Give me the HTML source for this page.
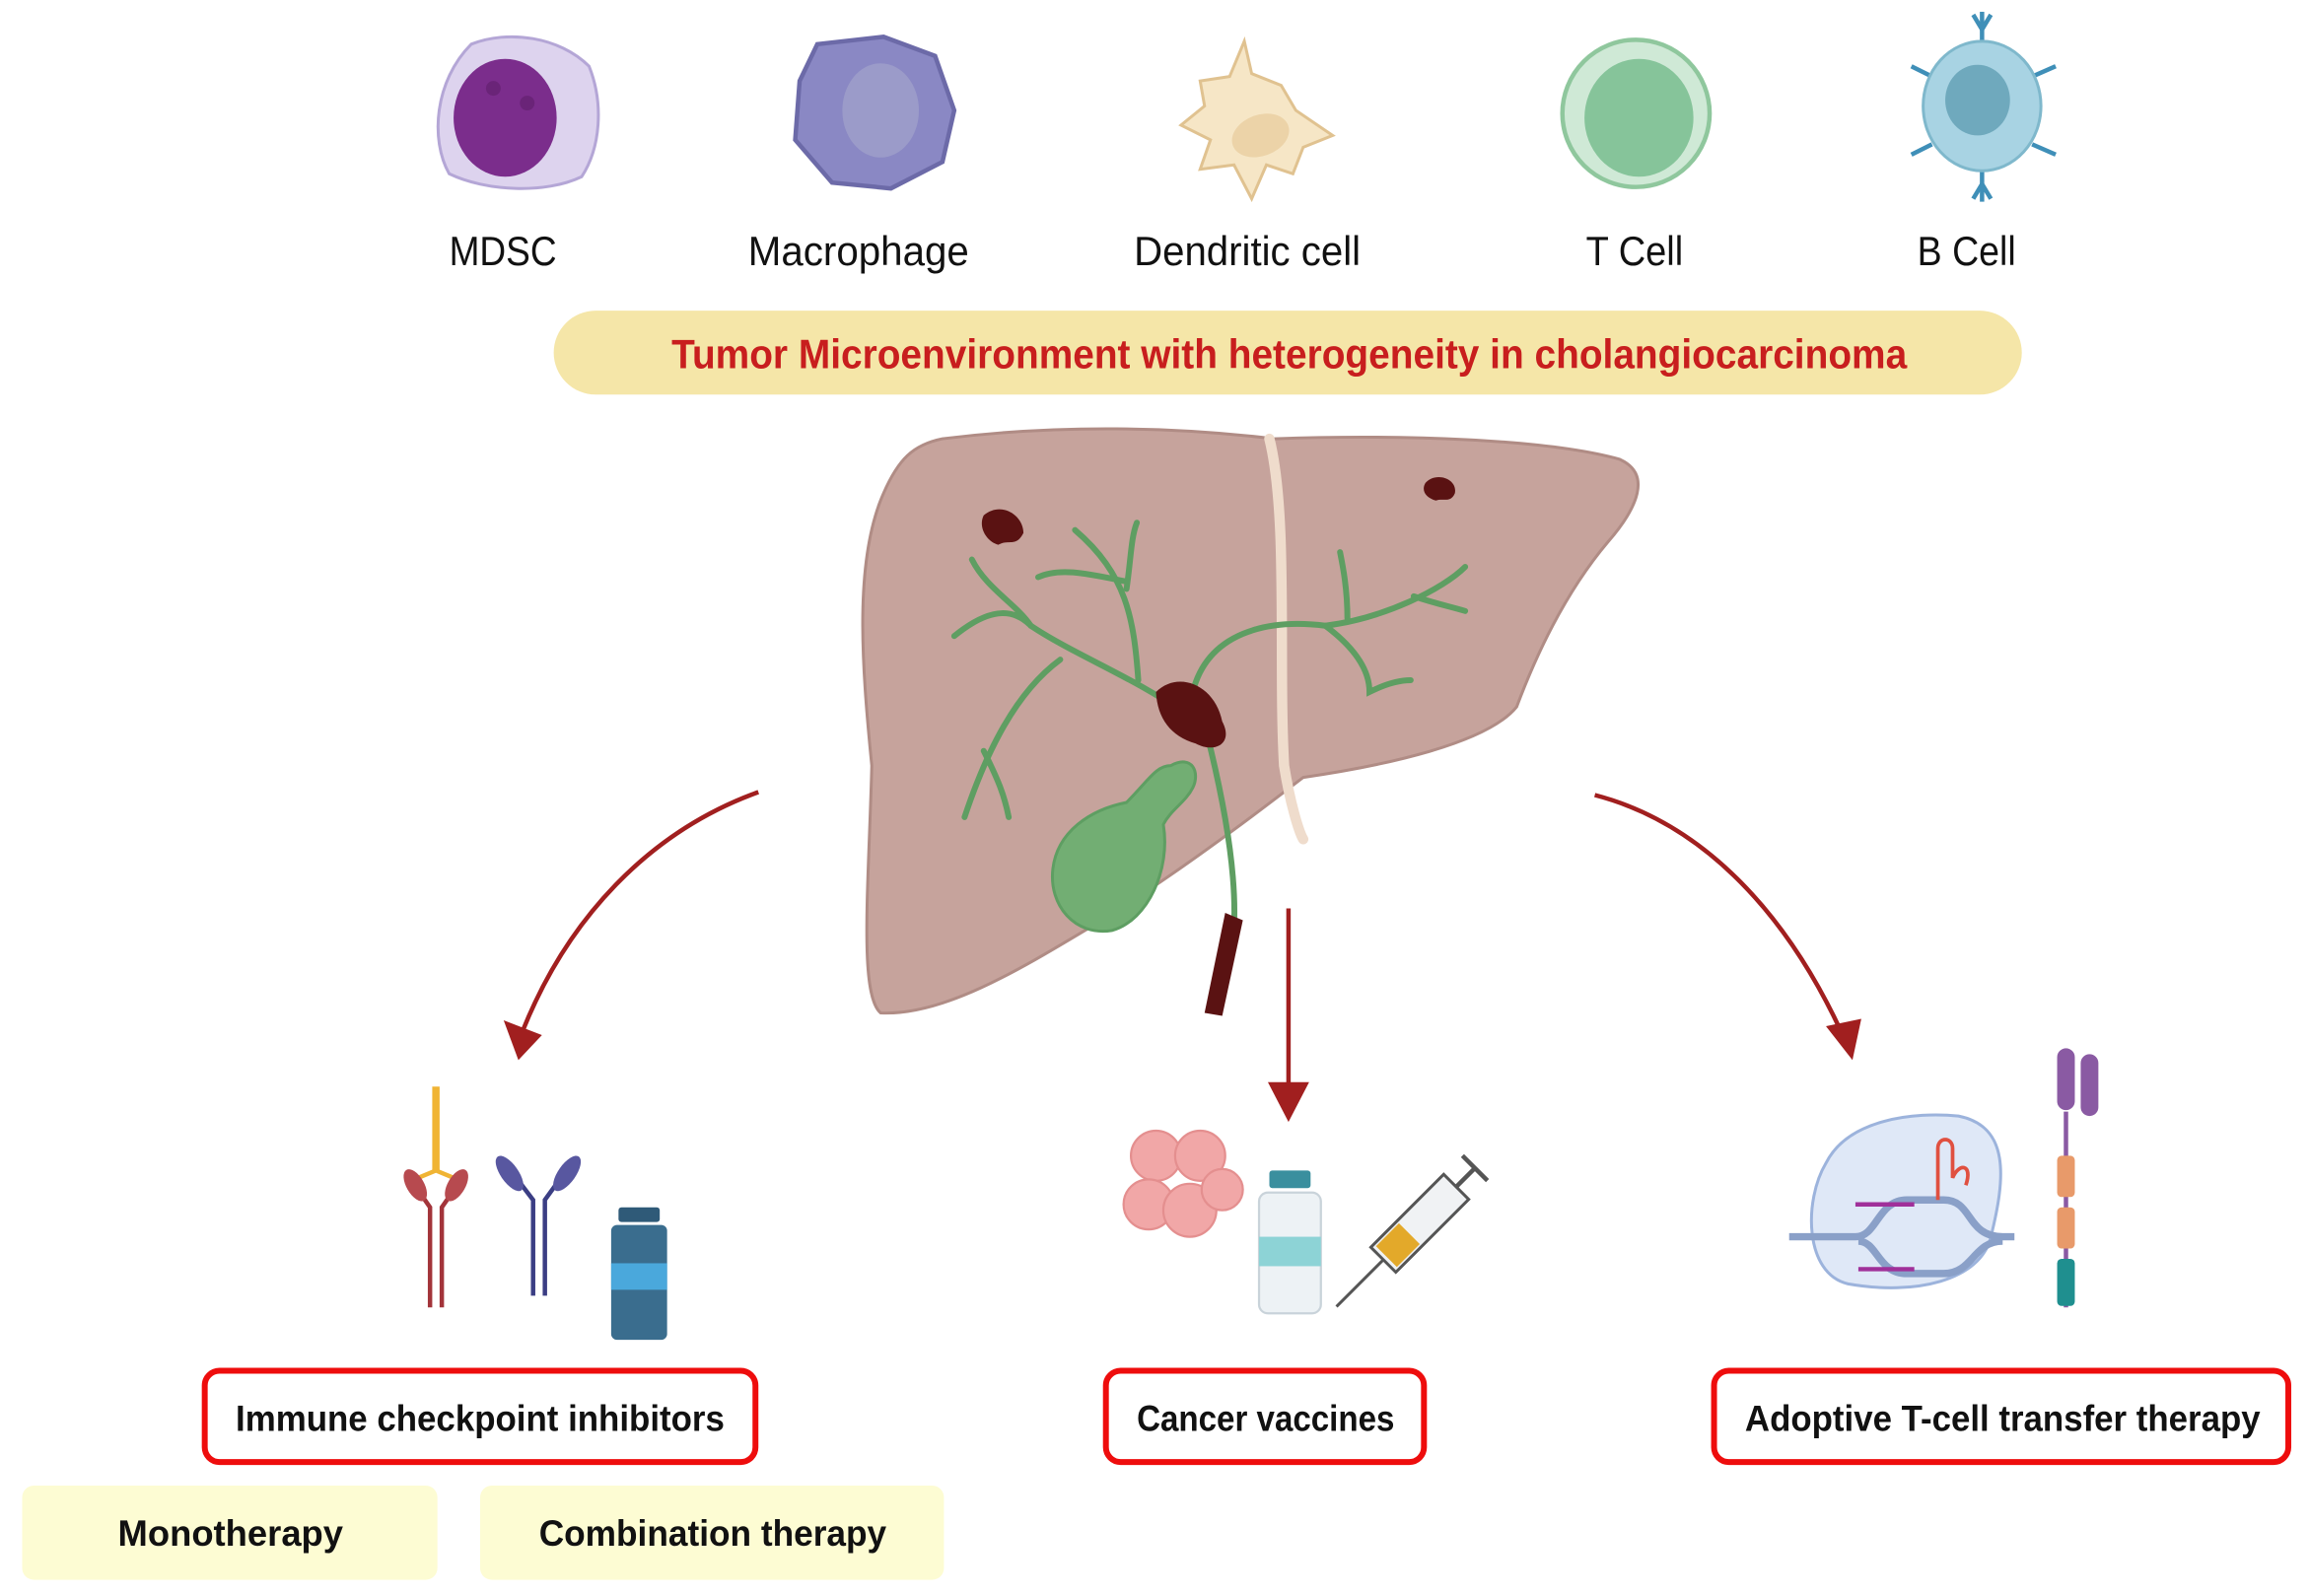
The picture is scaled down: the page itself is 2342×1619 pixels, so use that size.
<!DOCTYPE html>
<html><head><meta charset="utf-8"><style>
html,body{margin:0;padding:0;background:#fff;width:2342px;height:1619px;overflow:hidden}
svg{display:block}
text{font-family:"Liberation Sans Narrow","Liberation Sans",sans-serif}
</style></head><body>
<svg width="2342" height="1619" viewBox="0 0 1568 1084" xmlns="http://www.w3.org/2000/svg">
<!-- cells -->
<g>
 <path d="M320,30 C345,20 380,25 400,45 C410,70 408,100 395,120 C370,132 330,130 305,118 C292,95 295,55 320,30Z" fill="#ddd3ee" stroke="#b4a6d6" stroke-width="2"/>
 <ellipse cx="343" cy="80" rx="35" ry="40" fill="#7b2d8c"/>
 <circle cx="335" cy="60" r="5" fill="#6a2478"/><circle cx="358" cy="70" r="5" fill="#6a2478"/>
</g>
<g>
 <path d="M555,30 L600,25 L635,38 L648,75 L640,110 L605,128 L565,124 L540,95 L543,55Z" fill="#8a88c4" stroke="#6c6aa8" stroke-width="3"/>
 <ellipse cx="598" cy="75" rx="26" ry="32" fill="#9b9bc9"/>
</g>
<g fill="#f6e6c6" stroke="#e0c290" stroke-width="2">
 <path d="M845,28 L850,50 L870,58 L880,75 L905,92 L885,100 L878,118 L860,112 L850,135 L838,112 L815,115 L822,95 L802,85 L818,72 L815,55 L835,52Z"/>
 <ellipse cx="856" cy="92" rx="20" ry="14" fill="#ecd3a8" stroke="none" transform="rotate(-20 856 92)"/>
</g>
<g>
 <circle cx="1111" cy="77" r="50" fill="#cfe9d6" stroke="#8fc79d" stroke-width="3"/>
 <ellipse cx="1113" cy="80" rx="37" ry="40" fill="#86c49a"/>
</g>
<g stroke="#3f8fb8" stroke-width="3" fill="none">
 <line x1="1346" y1="8" x2="1346" y2="30"/><line x1="1346" y1="115" x2="1346" y2="137"/>
 <line x1="1298" y1="45" x2="1312" y2="52"/><line x1="1396" y1="45" x2="1380" y2="52"/>
 <line x1="1298" y1="105" x2="1312" y2="98"/><line x1="1396" y1="105" x2="1380" y2="98"/>
 <path d="M1340,10 L1346,20 L1352,10"/><path d="M1340,135 L1346,125 L1352,135"/>
</g>
<ellipse cx="1346" cy="72" rx="40" ry="44" fill="#a8d3e3" stroke="#7fb8cc" stroke-width="2"/>
<ellipse cx="1343" cy="68" rx="22" ry="24" fill="#6fa9bd"/>
<!-- labels -->
<g font-size="28" fill="#111">
 <text x="305" y="180" textLength="73" lengthAdjust="spacingAndGlyphs">MDSC</text>
 <text x="508" y="180" textLength="150" lengthAdjust="spacingAndGlyphs">Macrophage</text>
 <text x="770" y="180" textLength="154" lengthAdjust="spacingAndGlyphs">Dendritic cell</text>
 <text x="1077" y="180" textLength="66" lengthAdjust="spacingAndGlyphs">T Cell</text>
 <text x="1302" y="180" textLength="67" lengthAdjust="spacingAndGlyphs">B Cell</text>
</g>
<!-- banner -->
<rect x="376" y="211" width="997" height="57" rx="28.5" fill="#f5e6a8"/>
<text x="456" y="250" font-size="28" font-weight="bold" fill="#c81e1e" textLength="839" lengthAdjust="spacingAndGlyphs">Tumor Microenvironment with heterogeneity in cholangiocarcinoma</text>
<!-- liver -->
<path d="M640,298 C720,288 800,290 865,298 C950,295 1050,298 1100,312 C1122,322 1112,345 1092,368 C1065,400 1045,440 1030,480 C1010,505 940,520 885,528 C850,555 790,600 740,630 C690,660 640,690 598,688 C583,675 590,600 592,520 C585,450 580,380 600,335 C610,312 620,302 640,298Z" fill="#c6a39c" stroke="#b08c85" stroke-width="2"/>
<path d="M862,298 C875,350 868,450 872,520 C876,545 882,565 885,570" stroke="#efdccc" stroke-width="7" fill="none" stroke-linecap="round"/>
<g stroke="#5e9e62" stroke-width="4" fill="none" stroke-linecap="round">
 <path d="M805,485 C770,460 730,445 700,425 C690,415 675,410 648,432"/>
 <path d="M700,425 C690,410 670,400 660,380"/>
 <path d="M773,462 C770,420 765,390 730,360"/>
 <path d="M765,395 C740,390 720,385 705,392"/>
 <path d="M765,400 C768,380 768,365 772,355"/>
 <path d="M720,448 C690,470 670,510 655,555"/>
 <path d="M668,510 C678,530 682,540 685,555"/>
 <path d="M810,470 C820,430 860,420 900,425 C940,420 980,400 995,385"/>
 <path d="M915,420 C915,400 912,385 910,375"/>
 <path d="M960,405 C975,410 985,412 995,415"/>
 <path d="M900,425 C920,440 930,455 930,470 C940,465 950,462 958,462"/>
 <path d="M820,500 C830,540 840,590 838,630"/>
</g>
<path d="M785,470 C800,455 825,465 830,490 C838,505 825,512 812,505 C795,500 786,488 785,470Z" fill="#5a1212"/>
<path d="M668,350 C680,340 695,350 695,362 C690,372 685,366 678,370 C670,368 664,358 668,350Z" fill="#5a1212"/>
<path d="M968,328 C975,320 990,325 988,335 C985,342 980,338 975,340 C968,338 965,333 968,328Z" fill="#5a1212"/>
<path d="M832,620 L844,625 L830,690 L818,688Z" fill="#5a1212"/>
<path d="M795,520 C810,512 815,525 810,535 C805,545 795,550 790,560 C795,590 780,625 755,632 C730,636 712,615 715,590 C718,565 740,550 765,545 C780,530 785,520 795,520Z" fill="#72ae73" stroke="#5e9e62" stroke-width="2"/>
<!-- arrows -->
<g stroke="#a11f1f" stroke-width="3" fill="none">
 <path d="M515,538 C440,565 385,625 355,700"/>
 <path d="M875,617 L875,740"/>
 <path d="M1083,540 C1160,560 1215,625 1250,700"/>
</g>
<g fill="#a11f1f">
 <path d="M342,693 L368,703 L352,720Z"/>
 <path d="M861,735 L889,735 L875,762Z"/>
 <path d="M1240,697 L1264,692 L1258,720Z"/>
</g>
<!-- ICI icons -->
<g fill="none" stroke-width="3">
 <path d="M296,738 L296,795" stroke="#f0b434" stroke-width="5"/>
 <path d="M284,800 L296,795 L308,800" stroke="#f0b434"/>
 <path d="M292,888 L292,820 L278,800 M300,888 L300,820 L314,800" stroke="#a3343a"/>
 <path d="M362,880 L362,815 L343,790 M370,880 L370,815 L388,790" stroke="#3b3e84"/>
</g>
<ellipse cx="282" cy="805" rx="6" ry="12" fill="#b74a4f" transform="rotate(-30 282 805)"/>
<ellipse cx="310" cy="805" rx="6" ry="12" fill="#b74a4f" transform="rotate(30 310 805)"/>
<ellipse cx="346" cy="797" rx="6" ry="14" fill="#5857a0" transform="rotate(-35 346 797)"/>
<ellipse cx="385" cy="797" rx="6" ry="14" fill="#5857a0" transform="rotate(35 385 797)"/>
<rect x="420" y="820" width="28" height="10" rx="2" fill="#2f5a78"/>
<rect x="415" y="832" width="38" height="78" rx="4" fill="#3a6d8e"/>
<rect x="415" y="858" width="38" height="18" fill="#4aa8dc"/>
<!-- vaccine icons -->
<g fill="#f1a7a7" stroke="#e48f8f" stroke-width="1.5">
 <circle cx="785" cy="785" r="17"/><circle cx="815" cy="785" r="17"/><circle cx="780" cy="818" r="17"/><circle cx="808" cy="822" r="18"/><circle cx="830" cy="808" r="14"/>
</g>
<rect x="862" y="795" width="28" height="12" rx="2" fill="#3a8f9e"/>
<rect x="855" y="810" width="42" height="82" rx="6" fill="#edf2f5" stroke="#c9d3da" stroke-width="1.5"/>
<rect x="855" y="840" width="42" height="20" fill="#8dd3d6"/>
<g transform="rotate(45 950 845)">
 <rect x="938" y="790" width="24" height="70" fill="#f0f2f4" stroke="#555" stroke-width="2"/>
 <rect x="940" y="835" width="20" height="22" fill="#e3a92a"/>
 <line x1="950" y1="860" x2="950" y2="905" stroke="#555" stroke-width="2"/>
 <line x1="950" y1="790" x2="950" y2="772" stroke="#555" stroke-width="3"/>
 <line x1="938" y1="772" x2="962" y2="772" stroke="#555" stroke-width="3"/>
</g>
<!-- CRISPR / CAR -->
<path d="M1240,790 C1255,760 1300,755 1330,758 C1365,765 1362,800 1352,840 C1345,870 1300,880 1255,872 C1225,865 1225,815 1240,790Z" fill="#dfe8f7" stroke="#9cb3dc" stroke-width="2"/>
<g stroke="#8aa0c8" stroke-width="5" fill="none">
 <path d="M1215,840 L1260,840 C1275,840 1275,815 1295,815 L1320,815 C1340,815 1335,840 1360,840 L1368,840"/>
 <path d="M1262,843 C1275,843 1275,865 1295,865 L1320,865 C1340,865 1340,843 1360,843"/>
</g>
<path d="M1260,818 L1300,818 M1262,862 L1300,862" stroke="#a0309a" stroke-width="3"/>
<path d="M1316,815 L1316,780 C1316,772 1326,772 1326,780 L1326,800 C1330,790 1340,790 1335,805" stroke="#e05040" stroke-width="2.5" fill="none"/>
<rect x="1397" y="712" width="12" height="42" rx="6" fill="#8a5aa3"/>
<rect x="1413" y="716" width="12" height="42" rx="6" fill="#8a5aa3"/>
<line x1="1403" y1="755" x2="1403" y2="888" stroke="#8a5aa3" stroke-width="3"/>
<rect x="1397" y="785" width="12" height="28" rx="3" fill="#e89a6a"/>
<rect x="1397" y="820" width="12" height="28" rx="3" fill="#e89a6a"/>
<rect x="1397" y="855" width="12" height="32" rx="3" fill="#1f8f8f"/>
<!-- boxes -->
<g fill="#fff" stroke="#ee0d0d" stroke-width="4">
 <rect x="139" y="931" width="374" height="62" rx="10"/>
 <rect x="751" y="931" width="216" height="62" rx="10"/>
 <rect x="1164" y="931" width="390" height="62" rx="10"/>
</g>
<g font-size="25" font-weight="bold" fill="#111">
 <text x="160" y="972" textLength="332" lengthAdjust="spacingAndGlyphs">Immune checkpoint inhibitors</text>
 <text x="772" y="972" textLength="175" lengthAdjust="spacingAndGlyphs">Cancer vaccines</text>
 <text x="1185" y="972" textLength="350" lengthAdjust="spacingAndGlyphs">Adoptive T-cell transfer therapy</text>
</g>
<rect x="15" y="1009" width="282" height="64" rx="8" fill="#fdfcd3"/>
<rect x="326" y="1009" width="315" height="64" rx="8" fill="#fdfcd3"/>
<g font-size="25" font-weight="bold" fill="#111">
 <text x="80" y="1050" textLength="153" lengthAdjust="spacingAndGlyphs">Monotherapy</text>
 <text x="366" y="1050" textLength="236" lengthAdjust="spacingAndGlyphs">Combination therapy</text>
</g>
</svg>
</body></html>
